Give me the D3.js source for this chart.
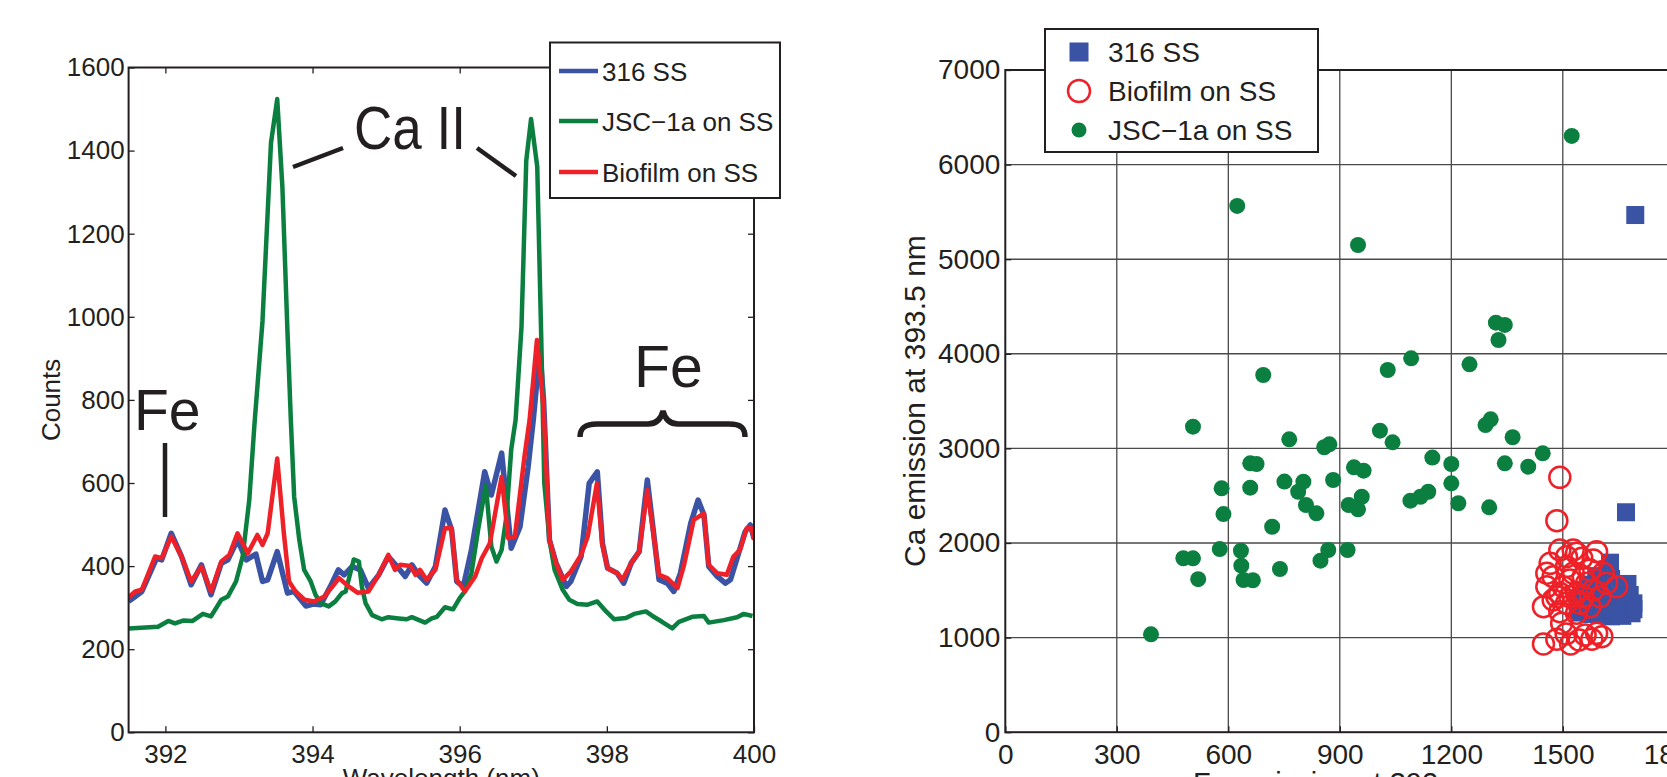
<!DOCTYPE html>
<html>
<head>
<meta charset="utf-8">
<script src="https://cdn.jsdelivr.net/npm/d3@7"></script>
<style>
  html, body { margin: 0; padding: 0; background: #fff; }
  svg { display: block; overflow: hidden; }
  text { fill: #231f20; font-family: "Liberation Sans", Arial, Helvetica, sans-serif; }
</style>
</head>
<body>
<svg id="chart" width="1667" height="777"></svg>
<script>
/* spectra: [wavelength nm, counts] */
const ss316Spectrum = [
  [391.50,315],[391.59,327],[391.68,339],[391.79,383],[391.88,419],[391.95,415],[392.08,479],[392.22,423],
  [392.35,355],[392.49,403],[392.62,331],[392.76,407],[392.85,415],[392.98,463],[393.10,415],[393.23,429],
  [393.32,363],[393.39,367],[393.52,435],[393.66,335],[393.75,339],[393.91,304],[394.02,309],[394.11,307],
  [394.24,350],[394.35,391],[394.43,379],[394.54,399],[394.65,391],[394.76,347],[394.90,379],[395.03,423],
  [395.15,399],[395.26,375],[395.35,403],[395.44,379],[395.55,359],[395.67,399],[395.80,535],[395.89,487],
  [395.96,363],[396.05,351],[396.16,439],[396.34,627],[396.43,571],[396.57,672],[396.70,443],[396.82,495],
  [396.93,639],[397.00,752],[397.09,920],[397.14,800],[397.22,463],[397.31,407],[397.45,351],[397.51,363],
  [397.65,423],[397.76,599],[397.87,627],[397.94,455],[398.01,395],[398.14,383],[398.23,359],[398.33,407],
  [398.44,435],[398.55,607],[398.62,503],[398.71,367],[398.82,359],[398.91,339],[399.00,383],[399.14,503],
  [399.24,559],[399.32,523],[399.385,399],[399.50,375],[399.61,359],[399.68,367],[399.77,419],[399.88,483],
  [399.95,499],[400.00,467]
]
const jscSpectrum = [
  [391.50,250],[391.90,254],[392.04,268],[392.13,262],[392.24,269],[392.37,268],[392.51,285],[392.62,279],
  [392.76,319],[392.85,327],[392.96,363],[393.05,423],[393.14,559],[393.21,740],[393.32,990],[393.435,1418],
  [393.52,1524],[393.59,1313],[393.66,960],[393.705,752],[393.75,567],[393.82,463],[393.886,391],[393.975,363],
  [394.04,331],[394.11,311],[394.22,303],[394.31,315],[394.40,335],[394.45,339],[394.56,416],[394.63,411],
  [394.67,351],[394.72,311],[394.81,282],[394.94,272],[395.03,277],[395.17,274],[395.28,272],[395.35,277],
  [395.53,264],[395.62,274],[395.69,278],[395.80,301],[395.91,296],[396.00,323],[396.07,339],[396.16,383],
  [396.25,487],[396.355,595],[396.43,447],[396.50,411],[396.57,439],[396.635,519],[396.70,680],[396.76,752],
  [396.84,976],[396.905,1377],[396.97,1476],[397.054,1361],[397.108,952],[397.15,599],[397.22,463],[397.29,391],
  [397.40,343],[397.49,319],[397.60,309],[397.74,307],[397.87,315],[397.99,291],[398.10,272],[398.26,275],
  [398.37,285],[398.53,291],[398.62,280],[398.75,266],[398.89,250],[398.98,266],[399.16,278],[399.32,280],
  [399.385,264],[399.59,270],[399.77,277],[399.86,285],[399.98,280]
]
const biofilmSpectrum = [
  [391.50,325],[391.59,339],[391.68,343],[391.86,423],[391.95,419],[392.08,471],[392.22,423],[392.35,363],
  [392.49,399],[392.62,339],[392.76,411],[392.87,427],[392.98,479],[393.12,431],[393.25,475],[393.32,451],
  [393.39,479],[393.52,659],[393.61,479],[393.68,363],[393.77,339],[393.89,319],[394.02,315],[394.16,327],
  [394.27,351],[394.36,371],[394.49,351],[394.61,336],[394.76,339],[394.90,379],[395.03,427],[395.12,391],
  [395.19,403],[395.33,400],[395.40,379],[395.46,391],[395.55,367],[395.67,391],[395.80,491],[395.89,491],
  [395.96,367],[396.07,339],[396.21,375],[396.30,419],[396.41,455],[396.57,615],[396.66,467],[396.75,471],
  [396.88,663],[396.95,752],[397.05,944],[397.14,780],[397.22,463],[397.31,407],[397.40,367],[397.51,387],
  [397.65,427],[397.74,471],[397.865,599],[397.94,451],[398.01,395],[398.14,383],[398.21,367],[398.33,407],
  [398.44,435],[398.55,583],[398.62,495],[398.71,379],[398.82,371],[398.96,347],[399.05,403],[399.18,511],
  [399.32,527],[399.385,403],[399.50,383],[399.63,379],[399.72,423],[399.81,439],[399.90,491],[399.97,491],
  [400.00,463]
]
const spectrumNames = ["316 SS", "JSC\u22121a on SS", "Biofilm on SS"]
const wavelengthTicks = [392, 394, 396, 398, 400]
const countTicks = [0, 200, 400, 600, 800, 1000, 1200, 1400, 1600]

/* scatter: [Fe emission at 392 nm, Ca emission at 393.5 nm] */
const ss316Points = [
  [1695,5467],[1670,2325],
  [1627,1792],[1674,1567],[1690,1362],[1685,1257],[1660,1230],[1630,1225],[1600,1240],[1570,1250],
  [1545,1265],[1560,1320],[1590,1330],[1620,1350],[1650,1400],[1665,1300],[1640,1480],[1610,1450],
  [1580,1420],[1550,1400],[1600,1550],[1630,1620],[1650,1500],[1620,1700],[1590,1650],[1560,1500],
  [1680,1450],[1540,1350],[1570,1560],[1650,1270],[1610,1300],[1690,1300]
]
const biofilmPoints = [
  [1492,2694],[1484,2236],
  [1448,932],[1484,982],[1509,1038],[1521,932],[1544,975],[1560,1028],[1578,982],[1591,1045],[1605,1010],[1497,1151],
  [1492,1926],[1528,1926],[1591,1908],[1466,1785],[1551,1838],[1618,1574],[1645,1538],[1457,1538],[1448,1327],
  [1492,1274],[1537,1257],[1573,1327],[1600,1432],[1474,1644],[1510,1750],[1573,1715],[1492,1468],[1537,1468],
  [1519,1609],[1564,1574],[1484,1432],[1546,1363],[1510,1363],[1582,1503],[1528,1680],[1501,1538],[1555,1644],
  [1474,1398],[1582,1820],[1537,1891],[1519,1432],[1555,1432],[1510,1855],[1609,1680],[1457,1680]
]
const jscPoints = [
  [1524,6303],[624,5563],[949,5150],[1320,4329],[1344,4305],[1327,4146],[1092,3952],[1029,3829],[1249,3889],[694,3776],
  [505,3230],[764,3096],[858,3012],[872,3043],[1008,3187],[1042,3064],[1292,3247],[1306,3307],[1365,3118],[1446,2948],
  [1344,2842],[1407,2807],[1200,2835],[1200,2631],[1149,2903],[1219,2420],[1302,2377],[1090,2447],[1117,2489],[1138,2542],
  [938,2800],[964,2765],[882,2666],[959,2489],[924,2402],[949,2356],[921,1926],[869,1926],[848,1813],[802,2648],
  [788,2542],[809,2402],[837,2314],[751,2649],[718,2172],[739,1725],[659,2842],[676,2835],[659,2585],[582,2578],
  [587,2306],[577,1936],[634,1918],[635,1760],[641,1609],[666,1606],[479,1839],[505,1838],[519,1618],[392,1035]
]
const scatterNames = ["316 SS", "Biofilm on SS", "JSC\u22121a on SS"]
const feTicks = [0, 300, 600, 900, 1200, 1500, 1800]
const caTicks = [0, 1000, 2000, 3000, 4000, 5000, 6000, 7000]

const blue = "#3a53a4", green = "#0b7f3f", red = "#ee2128", ink = "#231f20"

const svg = d3.select("#chart")

/* ---------- left: spectra ---------- */
const xL = d3.scaleLinear().domain([391.5, 400]).range([128.6, 754])
const yL = d3.scaleLinear().domain([0, 1600]).range([732.3, 67.5])

svg.append("clipPath").attr("id", "clipL")
  .append("rect")
  .attr("x", xL(391.5)).attr("y", yL(1600))
  .attr("width", xL(400) - xL(391.5)).attr("height", yL(0) - yL(1600))

const left = svg.append("g")

const styleAxis = (g, size) => {
  g.select(".domain").remove()
  g.selectAll(".tick line").attr("stroke", ink).attr("stroke-width", 1.3)
  g.selectAll(".tick text").attr("font-size", size).style("fill", ink)
    .attr("font-family", "'Liberation Sans', Arial, sans-serif")
}

left.append("g")
  .attr("transform", "translate(0," + yL(0) + ")")
  .call(d3.axisBottom(xL).tickValues(wavelengthTicks).tickFormat(d3.format("d")).tickSize(-6).tickPadding(12))
  .call(g => styleAxis(g, 26))
left.append("g")
  .attr("transform", "translate(0," + yL(1600) + ")")
  .call(d3.axisTop(xL).tickValues(wavelengthTicks).tickFormat("").tickSize(-6))
  .call(g => styleAxis(g, 26))
left.append("g")
  .attr("transform", "translate(" + xL(391.5) + ",0)")
  .call(d3.axisLeft(yL).tickValues(countTicks).tickFormat(d3.format("d")).tickSize(-6).tickPadding(4))
  .call(g => styleAxis(g, 26))
left.append("g")
  .attr("transform", "translate(" + xL(400) + ",0)")
  .call(d3.axisRight(yL).tickValues(countTicks).tickFormat("").tickSize(-6))
  .call(g => styleAxis(g, 26))

const specLine = d3.line().x(d => xL(d[0])).y(d => yL(d[1]))
const spectra = [ss316Spectrum, jscSpectrum, biofilmSpectrum]
const specColors = [blue, green, red]
const specWidths = [5.5, 4.5, 4.5]

left.append("g").attr("clip-path", "url(#clipL)")
  .selectAll("path")
  .data(spectra)
  .enter()
  .append("path")
  .attr("d", specLine)
  .attr("fill", "none")
  .attr("stroke", (d, i) => specColors[i])
  .attr("stroke-width", (d, i) => specWidths[i])
  .attr("stroke-linejoin", "round")

left.append("rect")
  .attr("x", xL(391.5)).attr("y", yL(1600))
  .attr("width", xL(400) - xL(391.5)).attr("height", yL(0) - yL(1600))
  .attr("fill", "none").attr("stroke", ink).attr("stroke-width", 2)

// annotations
const big = "Lato, 'Open Sans', sans-serif"
left.append("text").attr("x", 354).attr("y", 149).attr("font-family", big)
  .attr("font-size", 61).attr("textLength", 112).attr("lengthAdjust", "spacingAndGlyphs").text("Ca II")
left.append("text").attr("x", 134).attr("y", 430).attr("font-family", big)
  .attr("font-size", 57).text("Fe")
left.append("text").attr("x", 634).attr("y", 387).attr("font-family", big)
  .attr("font-size", 59).text("Fe")

const annot = left.append("g").attr("stroke", ink).attr("stroke-width", 4.5).attr("fill", "none")
annot.append("line").attr("x1", 293).attr("y1", 167).attr("x2", 343).attr("y2", 148)
annot.append("line").attr("x1", 477).attr("y1", 148).attr("x2", 516).attr("y2", 176)
annot.append("line").attr("x1", 165).attr("y1", 443).attr("x2", 165).attr("y2", 517)
annot.append("path").attr("stroke-width", 5.5)
  .attr("d", "M580,437 C580,428 585,424 597,424 L648,424 C657,424 661,419 663,411 C665,419 669,424 678,424 L729,424 C741,424 745,428 745,437")

// legend
const legL = left.append("g")
legL.append("rect").attr("x", 550).attr("y", 42.5).attr("width", 230).attr("height", 155.5)
  .attr("fill", "#fff").attr("stroke", ink).attr("stroke-width", 2)
const legRowsL = [71, 121, 172]
const legItemL = legL.selectAll("g.item").data(spectrumNames).enter().append("g")
  .attr("transform", (d, i) => "translate(0," + legRowsL[i] + ")")
legItemL.append("line").attr("x1", 559).attr("x2", 598).attr("y1", 0).attr("y2", 0)
  .attr("stroke", (d, i) => specColors[i]).attr("stroke-width", 4.5)
legItemL.append("text").attr("x", 602).attr("y", 10).attr("font-size", 26).text(d => d)

left.append("text").attr("x", (xL(391.5) + xL(400)) / 2).attr("y", 787)
  .attr("text-anchor", "middle").attr("font-size", 26).text("Wavelength (nm)")
left.append("text").attr("transform", "translate(60," + (yL(0) + yL(1600)) / 2 + ") rotate(-90)")
  .attr("text-anchor", "middle").attr("font-size", 26).text("Counts")

/* ---------- right: scatter ---------- */
const xR = d3.scaleLinear().domain([0, 1800]).range([1005.3, 1674.3])
const yR = d3.scaleLinear().domain([0, 7000]).range([732.2, 70])

const right = svg.append("g")

right.append("g").selectAll("line.gx").data(feTicks.slice(1, -1)).enter().append("line")
  .attr("x1", d => xR(d)).attr("x2", d => xR(d)).attr("y1", yR(0)).attr("y2", yR(7000))
  .attr("stroke", "#3a3a3a").attr("stroke-width", 1.2)
right.append("g").selectAll("line.gy").data(caTicks.slice(1, -1)).enter().append("line")
  .attr("x1", xR(0)).attr("x2", xR(1800)).attr("y1", d => yR(d)).attr("y2", d => yR(d))
  .attr("stroke", "#4a4a4a").attr("stroke-width", 1.4)

right.append("g")
  .attr("transform", "translate(0," + yR(0) + ")")
  .call(d3.axisBottom(xR).tickValues(feTicks).tickFormat(d3.format("d")).tickSize(-6).tickPadding(12))
  .call(g => styleAxis(g, 28))
right.append("g")
  .attr("transform", "translate(" + xR(0) + ",0)")
  .call(d3.axisLeft(yR).tickValues(caTicks).tickFormat(d3.format("d")).tickSize(-6).tickPadding(5))
  .call(g => styleAxis(g, 28))

right.append("rect")
  .attr("x", xR(0)).attr("y", yR(7000))
  .attr("width", xR(1800) - xR(0)).attr("height", yR(0) - yR(7000))
  .attr("fill", "none").attr("stroke", ink).attr("stroke-width", 2)

right.append("g").selectAll("rect")
  .data(ss316Points).enter().append("rect")
  .attr("x", d => xR(d[0]) - 9).attr("y", d => yR(d[1]) - 9)
  .attr("width", 18).attr("height", 18).attr("fill", blue)

right.append("g").selectAll("circle")
  .data(biofilmPoints).enter().append("circle")
  .attr("cx", d => xR(d[0])).attr("cy", d => yR(d[1])).attr("r", 10.5)
  .attr("fill", "none").attr("stroke", red).attr("stroke-width", 2.5)

right.append("g").selectAll("circle")
  .data(jscPoints).enter().append("circle")
  .attr("cx", d => xR(d[0])).attr("cy", d => yR(d[1])).attr("r", 8)
  .attr("fill", green)

// legend
const legR = right.append("g")
legR.append("rect").attr("x", 1045).attr("y", 29).attr("width", 273).attr("height", 123)
  .attr("fill", "#fff").attr("stroke", ink).attr("stroke-width", 2)
legR.append("rect").attr("x", 1069.5).attr("y", 42.5).attr("width", 19).attr("height", 19).attr("fill", blue)
legR.append("circle").attr("cx", 1079).attr("cy", 91).attr("r", 11)
  .attr("fill", "none").attr("stroke", red).attr("stroke-width", 2.5)
legR.append("circle").attr("cx", 1079).attr("cy", 130).attr("r", 7.5).attr("fill", green)
const legRowsR = [52, 91, 130]
legR.selectAll("text.item").data(scatterNames).enter().append("text")
  .attr("x", 1108).attr("y", (d, i) => legRowsR[i] + 10).attr("font-size", 28).text(d => d)

right.append("text").attr("x", (xR(0) + xR(1800)) / 2).attr("y", 793)
  .attr("text-anchor", "middle").attr("font-size", 29).text("Fe emission at 392 nm")
right.append("text").attr("transform", "translate(925," + (yR(0) + yR(7000)) / 2 + ") rotate(-90)")
  .attr("text-anchor", "middle").attr("font-size", 30).text("Ca emission at 393.5 nm")
</script>
</body>
</html>
